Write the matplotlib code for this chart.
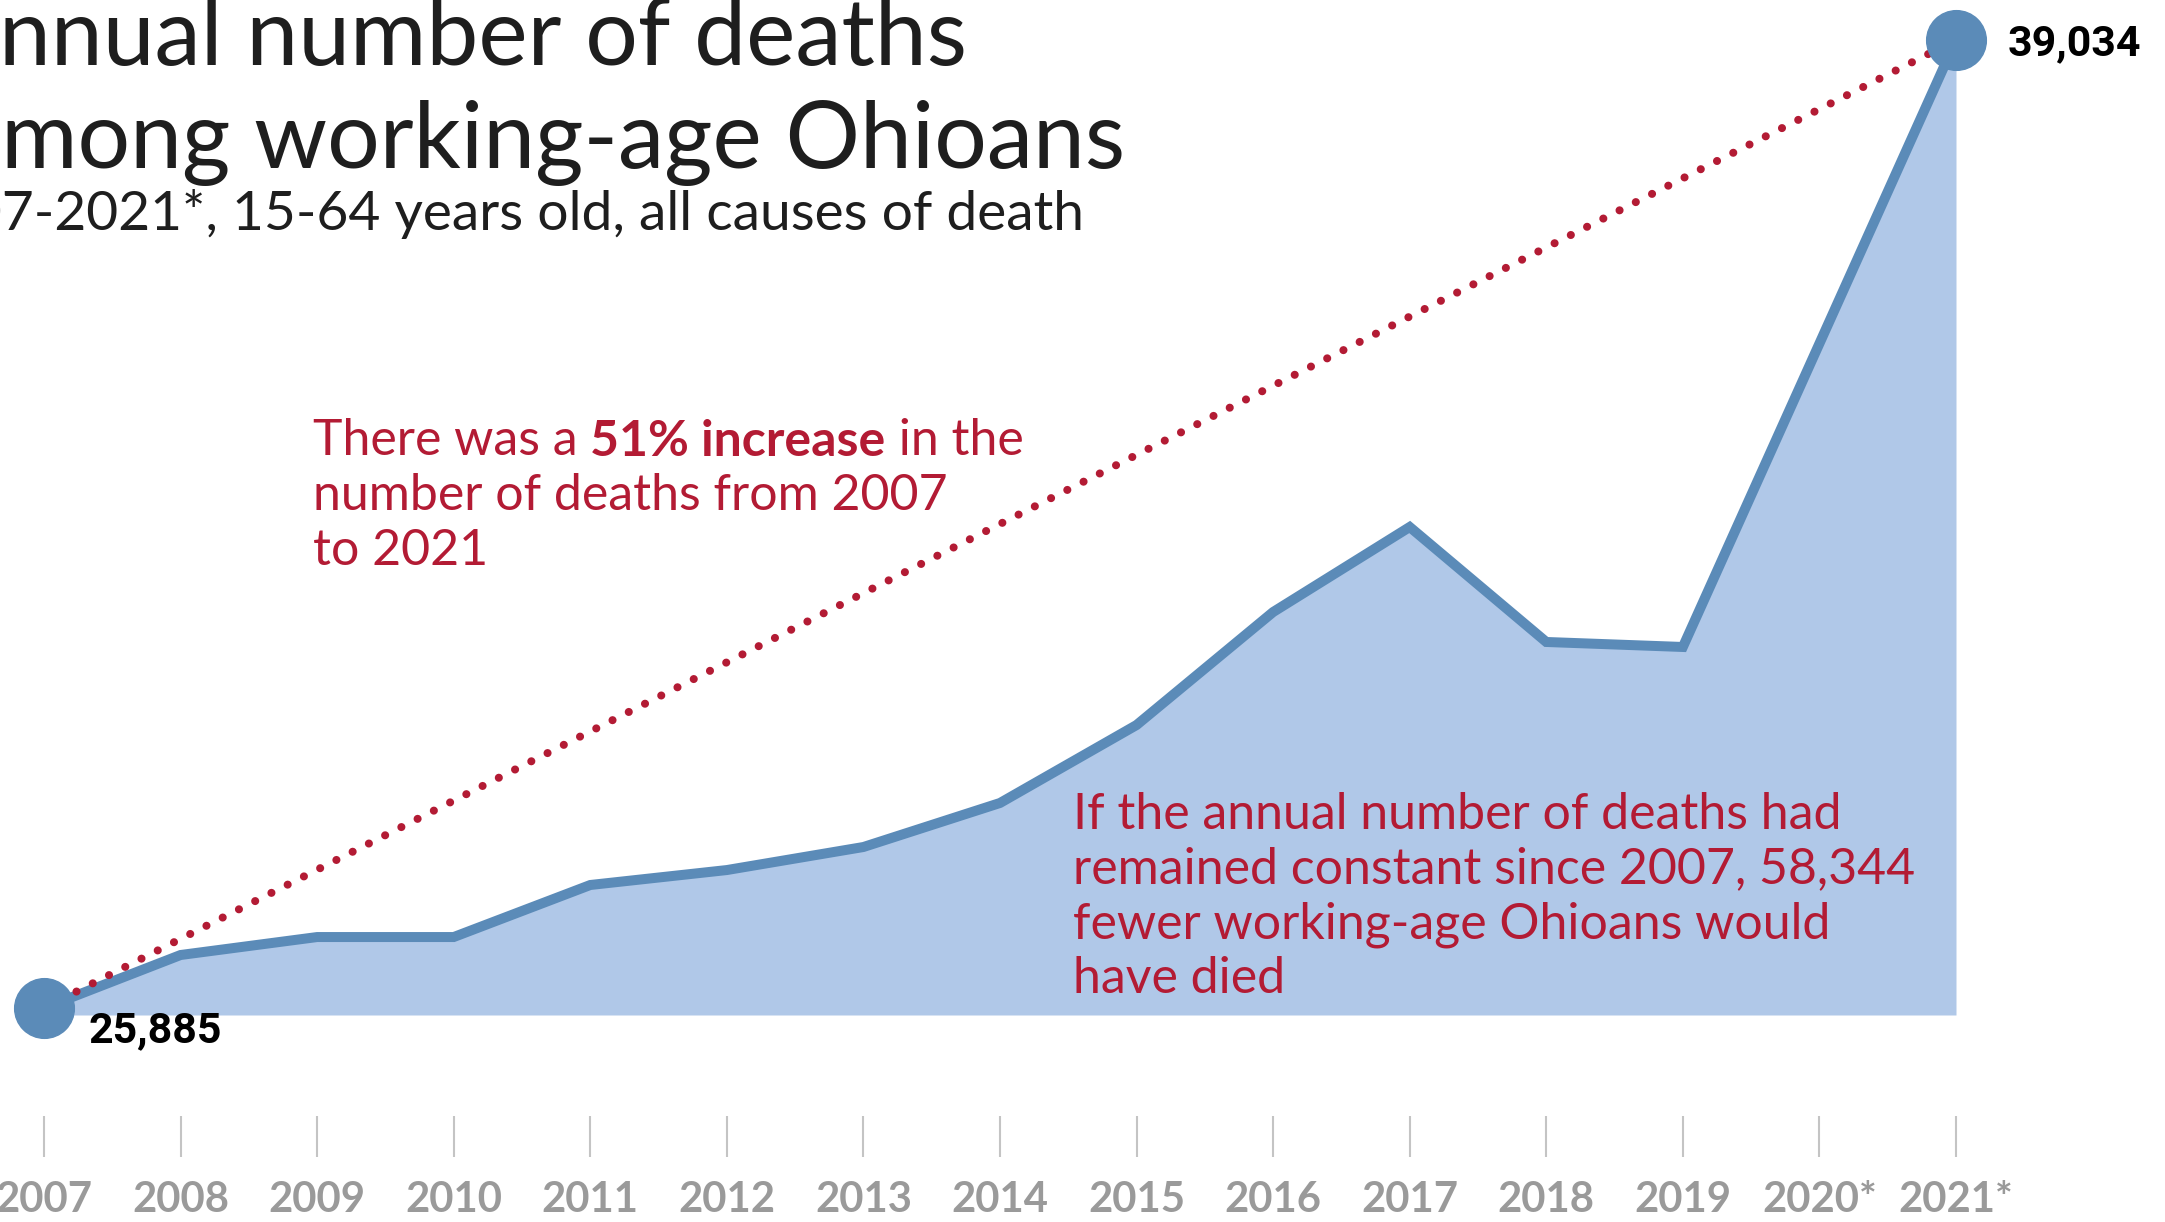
import matplotlib.pyplot as plt

# Annual deaths, Ohioans aged 15-64 (2020 and 2021 provisional)
years = [2007, 2008, 2009, 2010, 2011, 2012, 2013, 2014,
         2015, 2016, 2017, 2018, 2019, 2020, 2021]
year_labels = ["2007", "2008", "2009", "2010", "2011", "2012", "2013", "2014",
               "2015", "2016", "2017", "2018", "2019", "2020*", "2021*"]
deaths = [25885, 26605, 26849, 26849, 27556, 27759, 28072, 28670,
          29729, 31264, 32419, 30857, 30789, 34911, 39034]

BLUE = "#5b8bb8"
FILL = "#b0c8e8"
RED = "#b31b34"
GRAY = "#9a9a9a"
W, H = 2165, 1222
y_floor = 25790

fig = plt.figure(figsize=(W / 100, H / 100), dpi=100)
renderer = fig.canvas.get_renderer()


def fit_size(s, width, size=40, **kw):
    # font size that makes string s exactly `width` pixels wide
    t = fig.text(0, 0, s, fontsize=size, **kw)
    w = t.get_window_extent(renderer).width
    t.remove()
    return size * width / w


# main area chart
ax = fig.add_axes([44 / W, 1 - 1015 / H, (1956 - 44) / W, (1015 - 40) / H])
ax.set_xlim(years[0], years[-1])
ax.set_ylim(y_floor, deaths[-1])
ax.axis("off")

ax.fill_between(years, deaths, y_floor, color=FILL, lw=0, zorder=1)
ax.plot(years, deaths, color=BLUE, lw=7.2, solid_joinstyle="miter",
        clip_on=False, zorder=2)
ax.plot([years[0], years[-1]], [deaths[0], deaths[-1]], color=RED, lw=5.8,
        linestyle=(0, (0.01, 2.25)), dash_capstyle="round", clip_on=False, zorder=3)
ax.plot([years[0], years[-1]], [deaths[0], deaths[-1]], "o", ms=43, color=BLUE,
        clip_on=False, zorder=4)

num_size = fit_size("25,885", 133, family="Roboto", weight="bold")
ax.annotate(f"{deaths[0]:,}", xy=(years[0], deaths[0]), xytext=(45, -34),
            textcoords="offset pixels", ha="left", va="baseline",
            fontsize=num_size, family="Roboto", weight="bold", color="black")
ax.annotate(f"{deaths[-1]:,}", xy=(years[-1], deaths[-1]), xytext=(52, -15),
            textcoords="offset pixels", ha="left", va="baseline",
            fontsize=num_size, family="Roboto", weight="bold", color="black")

# year ticks below the chart
tax = fig.add_axes([44 / W, 1 - 1157 / H, (1956 - 44) / W, (1157 - 1116) / H])
tax.set_xlim(years[0], years[-1])
tax.set_ylim(0, 1)
tax.vlines(years, 0, 1, color="#c4c4c4", lw=1.5, clip_on=False)
for s in tax.spines.values():
    s.set_visible(False)
tax.set_yticks([])
tick_size = fit_size("2008", 97, family="Lato", weight="bold")
tax.set_xticks(years, year_labels, fontsize=tick_size, family="Lato",
               weight="bold", color=GRAY)
tax.tick_params(axis="x", length=0, pad=17)

# title block, left part runs off the edge
title = dict(family="Lato", color="#1e1e1e", va="baseline", ha="right")
t_size = (fit_size("nnual number of deaths", 967, family="Lato")
          + fit_size("mong working-age Ohioans", 1125, family="Lato")) / 2
fig.text(967 / W, 1 - 65 / H, "Annual number of deaths", fontsize=t_size, **title)
fig.text(1125 / W, 1 - 168 / H, "among working-age Ohioans", fontsize=t_size, **title)
sub_size = fit_size("7-2021*, 15-64 years old, all causes of death", 1084, family="Lato")
fig.text(1084 / W, 1 - 230 / H, "2007-2021*, 15-64 years old, all causes of death",
         fontsize=sub_size, **title)

# red annotations
a_size = fit_size("remained constant since 2007, 58,344", 841, family="Lato")
note = dict(fontsize=a_size, family="Lato", color=RED)

t1 = fig.text(313 / W, 1 - 455 / H, "There was a ", ha="left", va="baseline", **note)
t2 = ax.annotate("51% increase", xy=(1, 0), xycoords=t1, ha="left", va="bottom",
                 weight="bold", **note)
ax.annotate(" in the", xy=(1, 0), xycoords=t2, ha="left", va="bottom", **note)
fig.text(313 / W, 1 - 510 / H, "number of deaths from 2007", ha="left",
         va="baseline", **note)
fig.text(313 / W, 1 - 565 / H, "to 2021", ha="left", va="baseline", **note)

lines2 = ["If the annual number of deaths had",
          "remained constant since 2007, 58,344",
          "fewer working-age Ohioans would",
          "have died"]
for line, base in zip(lines2, [829, 883, 938, 993]):
    fig.text(1073 / W, 1 - base / H, line, ha="left", va="baseline", **note)

fig.savefig("out.png", dpi=100)
